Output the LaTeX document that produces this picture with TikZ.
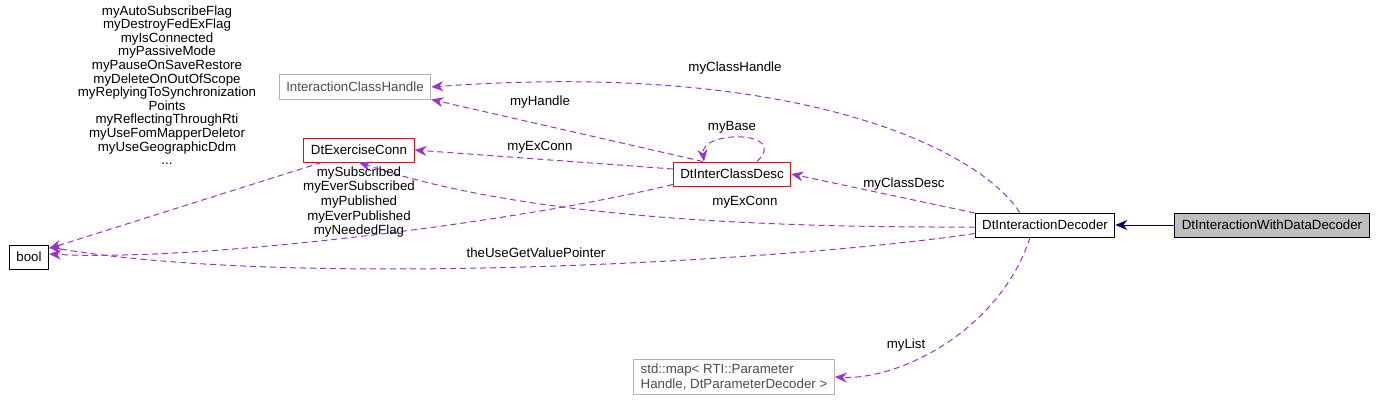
\documentclass[tikz,border=0pt]{standalone}
\usepackage{fontspec}
\setmainfont{Liberation Sans}
\usetikzlibrary{arrows.meta}
\begin{document}
\begin{tikzpicture}[x=1pt,y=-1pt,font=\fontsize{13.3}{15}\selectfont,line width=1pt,
  cls/.style={draw,inner xsep=7pt,inner ysep=3pt,minimum height=24pt},
  red cls/.style={cls,draw=red},
  ext cls/.style={cls,draw=black!30,text=black!70},
  use/.style={draw=violet,dash pattern=on 6pt off 4pt,-{Stealth[length=12pt,width=10pt]},fill=none},
  lab/.style={align=center,inner sep=1pt}]
  \definecolor{violet}{HTML}{9A32CD}
  \useasboundingbox (0,0) rectangle (1379,404);

  \node[cls] (bool) at (29,257) {bool};
  \node[red cls] (exconn) at (359,150) {DtExerciseConn};
  \node[ext cls] (ich) at (355,87) {InteractionClassHandle};
  \node[red cls] (icd) at (732,174) {DtInterClassDesc};
  \node[cls] (idec) at (1045,225) {DtInteractionDecoder};
  \node[cls,fill=black!25] (iwdd) at (1272,225) {DtInteractionWithDataDecoder};
  \node[ext cls,align=left,inner ysep=4pt] (map) at (734,377) {std::map\textless{} RTI::Parameter\\Handle, DtParameterDecoder \textgreater};

 \draw[-{Stealth[length=12pt,width=10pt]},draw=blue!40!black,fill=blue!40!black] (iwdd) -- (idec);
 \draw[use] (idec.north west) ++(45,0) .. controls (980,150) and (800,60) .. (ich.east);
 \draw[use] (icd.north west) ++(30,0) -- (ich.south east);
 \draw[use] (icd.west) ++(0,-5) -- (exconn.east);
 \draw[use] ([xshift=25pt]icd.north) .. controls (790,130) and (700,130) .. ([xshift=-28pt]icd.north);
 \draw[use] (idec.west) ++(0,-12) -- (icd.east);
 \draw[use] (idec.west) ++(0,2) .. controls (700,228) and (500,210) .. (exconn.south);
 \draw[use] (exconn.south west) ++(18,0) -- ([yshift=-4pt]bool.north east);
 \draw[use] (icd.south west) ++(0,-2) .. controls (520,222) and (200,262) .. ([yshift=3pt]bool.east);
 \draw[use] (idec.south west) ++(0,-4) .. controls (800,260) and (300,290) .. ([yshift=10pt]bool.east);
 \draw[use] (idec.south) ++(-15,0) .. controls (1000,330) and (900,380) .. (map.east);

 \node[lab] at (735,68) {myClassHandle};
 \node[lab] at (540,102) {myHandle};
 \node[lab] at (540,147) {myExConn};
 \node[lab] at (732,127) {myBase};
 \node[lab] at (904,184) {myClassDesc};
 \node[lab] at (745,202) {myExConn};
 \node[lab] at (536,253) {theUseGetValuePointer};
 \node[lab] at (906,345) {myList};
 \node[lab,align=center,font=\fontsize{13.3}{13.6}\selectfont] at (167,85) {myAutoSubscribeFlag\\myDestroyFedExFlag\\myIsConnected\\myPassiveMode\\myPauseOnSaveRestore\\myDeleteOnOutOfScope\\myReplyingToSynchronization\\Points\\myReflectingThroughRti\\myUseFomMapperDeletor\\myUseGeographicDdm\\...};
 \node[lab,font=\fontsize{13.3}{14.6}\selectfont] at (359,202) {mySubscribed\\myEverSubscribed\\myPublished\\myEverPublished\\myNeededFlag};
\end{tikzpicture}
\end{document}
